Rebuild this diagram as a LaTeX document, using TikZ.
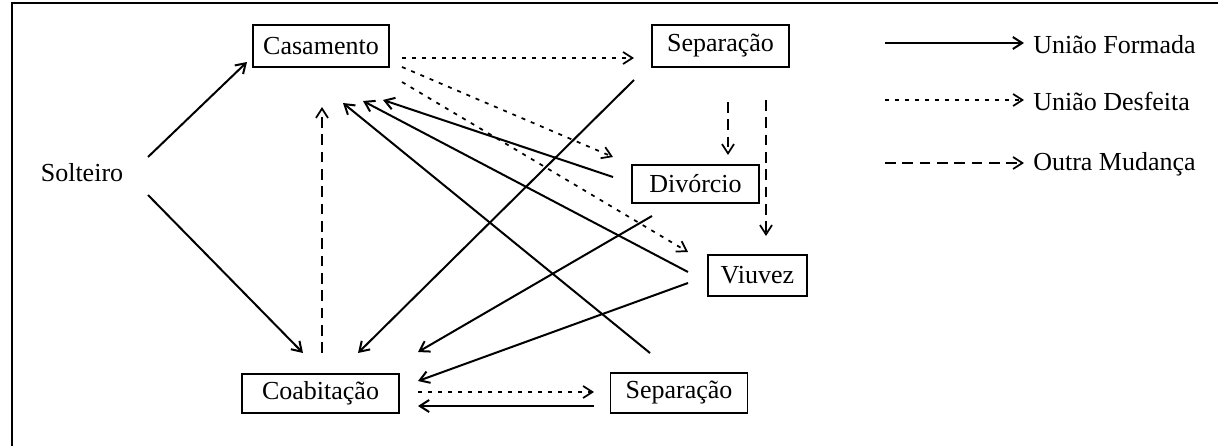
\documentclass[tikz,border=0pt]{standalone}
\usepackage{fontspec}
\setmainfont{Liberation Serif}
\usetikzlibrary{arrows.meta}
\newcommand{\diagfont}{\fontsize{19.5}{23}\selectfont}
\begin{document}
\begin{tikzpicture}[x=0.75pt,y=-0.75pt,
  box/.style={draw, line width=1.2pt, inner sep=0pt, font=\diagfont},
  lbl/.style={inner sep=0pt, font=\diagfont},
  tip/.style={-{Straight Barb[length=7pt,width=9pt]}},
  formed/.style={tip, line width=1.5pt},
  undone/.style={tip, line width=1.3pt, dash pattern=on 3pt off 4.5pt},
  other/.style={tip, line width=1.3pt, dash pattern=on 8pt off 5pt},
  frame/.style={line width=1.5pt}
]
\useasboundingbox (0,0) rectangle (1218,446);
% frame (top and left)
\coordinate (frTL) at (12,3);
\coordinate (frTR) at (1218,3);
\coordinate (frBL) at (12,446);
\draw[frame] (frBL) -- (frTL) -- (frTR);

% nodes
\node[lbl] (sol) at (82,173) {Solteiro};
\node[box, minimum width=102pt, minimum height=31.5pt] (cas) at (321,46) {Casamento};
\node[box, minimum width=103pt, minimum height=31.5pt] (sept) at (720.5,46) {Separação};
\node[box, minimum width=95pt, minimum height=28.5pt] (div) at (695.5,184) {Divórcio};
\node[box, minimum width=74pt, minimum height=31pt] (viu) at (757.5,275.5) {Viuvez};
\node[box, minimum width=118pt, minimum height=29.5pt] (coab) at (320.5,393.5) {Coabitação};
\node[box, minimum width=103pt, minimum height=30pt] (sepb) at (679,393) {Separação};

% connector end points
\coordinate (solA) at (148,157);
\coordinate (solB) at (148,195);
\coordinate (casIn0) at (247,62);
\coordinate (coabIn0) at (303,353);
\coordinate (coabOut0) at (322,353);
\coordinate (casIn1) at (322,107);
\coordinate (casOut1) at (402,58);
\coordinate (septIn) at (634,58);
\coordinate (casOut2) at (402,67);
\coordinate (divIn) at (613,157);
\coordinate (casOut3) at (402,82);
\coordinate (viuIn) at (688,252);
\coordinate (septOut1) at (728,102);
\coordinate (divIn2) at (728,155);
\coordinate (septOut2) at (766,100);
\coordinate (viuIn2) at (766,236);
\coordinate (septOut3) at (634,80);
\coordinate (coabIn1) at (358,353);
\coordinate (divOut1) at (613,177);
\coordinate (casIn4) at (383,100);
\coordinate (viuOut1) at (688,272);
\coordinate (casIn3) at (363,101);
\coordinate (sepbOut1) at (650,353);
\coordinate (casIn2) at (343,103);
\coordinate (divOut2) at (652,216);
\coordinate (coabIn2) at (418,352);
\coordinate (viuOut2) at (688,283);
\coordinate (coabIn3) at (418,381);
\coordinate (coabOut1) at (418,392);
\coordinate (sepbIn) at (594,392);
\coordinate (sepbOut2) at (594,406);
\coordinate (coabIn4) at (418,406);

% connectors
\draw[formed] (solA) -- (casIn0);
\draw[formed] (solB) -- (coabIn0);
\draw[other] (coabOut0) -- (casIn1);
\draw[undone] (casOut1) -- (septIn);
\draw[undone] (casOut2) -- (divIn);
\draw[undone] (casOut3) -- (viuIn);
\draw[other] (septOut1) -- (divIn2);
\draw[other] (septOut2) -- (viuIn2);
\draw[formed] (septOut3) -- (coabIn1);
\draw[formed] (divOut1) -- (casIn4);
\draw[formed] (viuOut1) -- (casIn3);
\draw[formed] (sepbOut1) -- (casIn2);
\draw[formed] (divOut2) -- (coabIn2);
\draw[formed] (viuOut2) -- (coabIn3);
\draw[undone] (coabOut1) -- (sepbIn);
\draw[formed] (sepbOut2) -- (coabIn4);

% legend
\coordinate (lgA1) at (885,43);
\coordinate (lgA2) at (1024,43);
\coordinate (lgB1) at (885,100);
\coordinate (lgB2) at (1024,100);
\coordinate (lgC1) at (885,163);
\coordinate (lgC2) at (1024,163);
\draw[formed] (lgA1) -- (lgA2);
\draw[undone] (lgB1) -- (lgB2);
\draw[other] (lgC1) -- (lgC2);
\node[lbl, anchor=west] (lgA) at (1033,45) {União Formada};
\node[lbl, anchor=west] (lgB) at (1033,101) {União Desfeita};
\node[lbl, anchor=west] (lgC) at (1033,164) {Outra Mudança};
\end{tikzpicture}
\end{document}
